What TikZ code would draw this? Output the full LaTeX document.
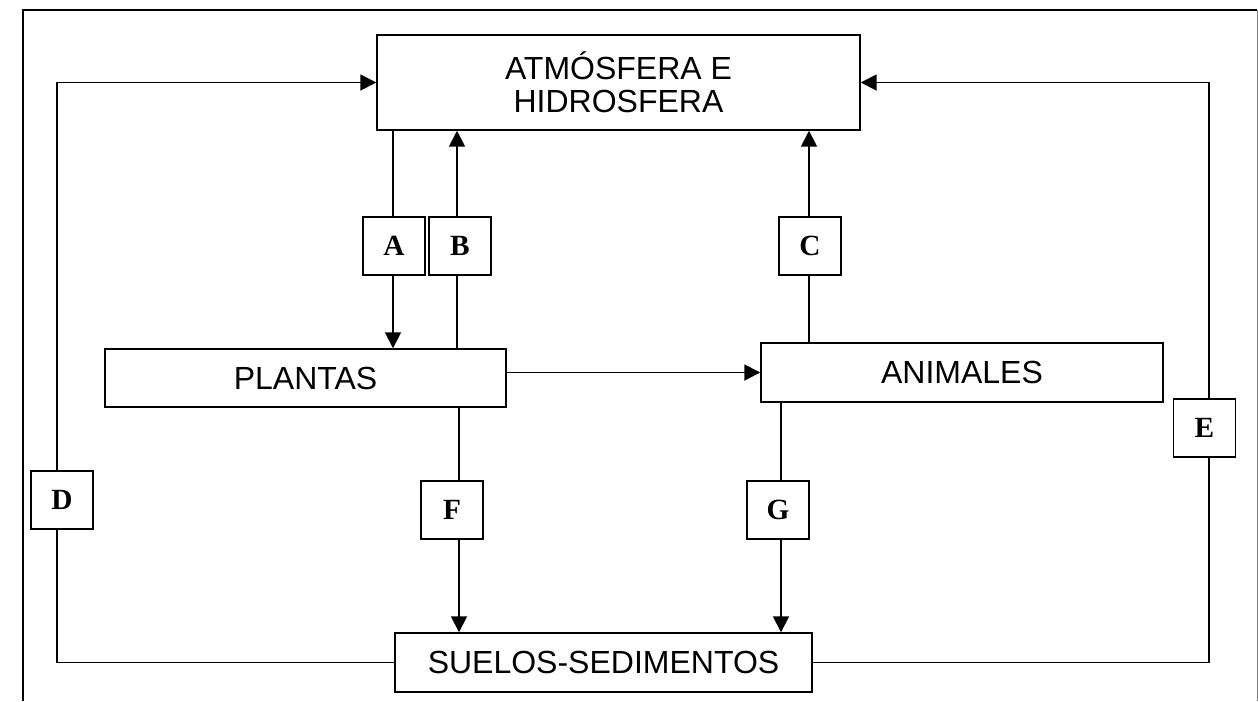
\documentclass[tikz,border=0pt]{standalone}
\usepackage{fontspec}
\setmainfont{Liberation Sans}
\newfontfamily\letterfont{Liberation Serif}
\usetikzlibrary{arrows.meta}
\begin{document}
\begin{tikzpicture}[x=0.75pt,y=-0.75pt,
  bigbox/.style={draw,line width=1.1pt,fill=white,inner sep=0pt,align=center,
    font=\fontsize{24}{25}\selectfont},
  lbox/.style={draw,line width=1.1pt,fill=white,inner sep=0pt,
    minimum width=62*0.75pt,minimum height=58*0.75pt,
    font=\letterfont\bfseries\fontsize{22}{23}\selectfont},
  conn/.style={line width=1.4pt},
  arr/.style={line width=1.4pt,-{Triangle[length=12pt,width=12pt]}}]
\useasboundingbox (0,0) rectangle (1258,701);
% outer frame
\draw[line width=1.8pt] (23,701) -- (23,10) -- (1257,10);
\draw[gray,line width=0.6pt] (1257,10) -- (1257,701);
% main boxes
\node[bigbox,minimum width=483*0.75pt,minimum height=95*0.75pt] (atmos) at (618.5,82.5) {ATMÓSFERA E\\HIDROSFERA};
\node[bigbox,minimum width=401*0.75pt,minimum height=58*0.75pt] (plantas) at (305.5,378) {PLANTAS};
\node[bigbox,minimum width=402*0.75pt,minimum height=59*0.75pt] (animales) at (962,372.5) {ANIMALES};
\node[bigbox,minimum width=417*0.75pt,minimum height=59*0.75pt] (suelos) at (603.5,662.5) {SUELOS-SEDIMENTOS};
% label boxes
\node[lbox] (A) at (394,246) {A};
\node[lbox] (B) at (460,246) {B};
\node[lbox] (C) at (810,246) {C};
\node[lbox] (D) at (62,500) {D};
\node[lbox] (E) at (1204.5,428) {E};
\node[lbox] (F) at (452,510) {F};
\node[lbox] (G) at (778,510) {G};
% line positions
\coordinate (al) at (393,0);
\coordinate (bl) at (457,0);
\coordinate (cl) at (809,0);
\coordinate (dl) at (57,0);
\coordinate (el) at (1209,0);
\coordinate (fl) at (459,0);
\coordinate (gl) at (781,0);
% connectors
\draw[conn] (atmos.south -| al) -- (A.north -| al);
\draw[arr] (A.south -| al) -- (plantas.north -| al);
\draw[conn] (plantas.north -| bl) -- (B.south -| bl);
\draw[arr] (B.north -| bl) -- (atmos.south -| bl);
\draw[conn] (animales.north -| cl) -- (C.south -| cl);
\draw[arr] (C.north -| cl) -- (atmos.south -| cl);
\draw[arr] (plantas.east |- animales.west) -- (animales.west);
\draw[conn] (plantas.south -| fl) -- (F.north -| fl);
\draw[arr] (F.south -| fl) -- (suelos.north -| fl);
\draw[conn] (animales.south -| gl) -- (G.north -| gl);
\draw[arr] (G.south -| gl) -- (suelos.north -| gl);
\draw[conn] (suelos.west) -| (D.south -| dl);
\draw[arr] (D.north -| dl) |- (atmos.west);
\draw[conn] (suelos.east) -| (E.south -| el);
\draw[arr] (E.north -| el) |- (atmos.east);
\end{tikzpicture}
\end{document}
